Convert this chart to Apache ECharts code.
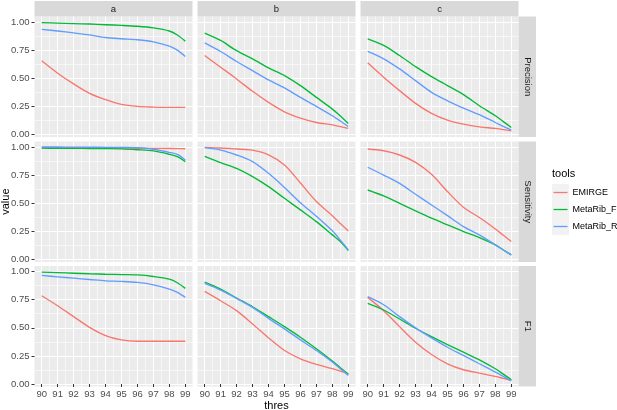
<!DOCTYPE html>
<html>
<head>
<meta charset="utf-8">
<script src="https://cdn.jsdelivr.net/npm/echarts@6/dist/echarts.min.js"></script>
<style>html,body{margin:0;padding:0;background:#fff}#c{width:617px;height:410px}</style>
</head>
<body>
<div id="c"></div>
<script>
// ---- data ----
const thres = [90, 91, 92, 93, 94, 95, 96, 97, 98, 98.5, 99];
const columns = ['a', 'b', 'c'];
const metrics = ['Precision', 'Sensitivity', 'F1'];
const tools = ['EMIRGE', 'MetaRib_F', 'MetaRib_R'];
const xTicks = [90, 91, 92, 93, 94, 95, 96, 97, 98, 99];
const xMinor = [90.5, 91.5, 92.5, 93.5, 94.5, 95.5, 96.5, 97.5, 98.5];
const yTicks = [0, 0.25, 0.5, 0.75, 1];
const yTickLabels = ['0.00', '0.25', '0.50', '0.75', '1.00'];
const yMinor = [0.125, 0.375, 0.625, 0.875];

// Precision
const precision_a_EMIRGE    = [0.655, 0.545, 0.450, 0.366, 0.310, 0.268, 0.250, 0.244, 0.241, 0.241, 0.241];
const precision_a_MetaRib_F = [0.994, 0.990, 0.986, 0.982, 0.976, 0.970, 0.962, 0.948, 0.920, 0.885, 0.830];
const precision_a_MetaRib_R = [0.935, 0.920, 0.903, 0.885, 0.862, 0.851, 0.842, 0.824, 0.786, 0.750, 0.693];
const precision_b_EMIRGE    = [0.702, 0.598, 0.494, 0.384, 0.286, 0.202, 0.146, 0.107, 0.086, 0.070, 0.054];
const precision_b_MetaRib_F = [0.902, 0.836, 0.745, 0.673, 0.592, 0.524, 0.435, 0.330, 0.226, 0.165, 0.098];
const precision_b_MetaRib_R = [0.815, 0.738, 0.649, 0.568, 0.485, 0.414, 0.330, 0.250, 0.167, 0.120, 0.071];
const precision_c_EMIRGE    = [0.637, 0.509, 0.390, 0.277, 0.188, 0.128, 0.092, 0.068, 0.054, 0.043, 0.033];
const precision_c_MetaRib_F = [0.851, 0.792, 0.702, 0.604, 0.515, 0.435, 0.354, 0.256, 0.167, 0.115, 0.063];
const precision_c_MetaRib_R = [0.738, 0.673, 0.583, 0.479, 0.375, 0.300, 0.235, 0.176, 0.107, 0.072, 0.039];
// Sensitivity
const sensitivity_a_EMIRGE    = [0.995, 0.994, 0.993, 0.992, 0.991, 0.990, 0.989, 0.988, 0.987, 0.986, 0.985];
const sensitivity_a_MetaRib_F = [0.990, 0.989, 0.988, 0.987, 0.986, 0.984, 0.976, 0.965, 0.935, 0.914, 0.870];
const sensitivity_a_MetaRib_R = [1.000, 1.000, 0.999, 0.998, 0.997, 0.996, 0.994, 0.980, 0.953, 0.935, 0.885];
const sensitivity_b_EMIRGE    = [0.997, 0.991, 0.982, 0.972, 0.930, 0.840, 0.680, 0.515, 0.390, 0.320, 0.254];
const sensitivity_b_MetaRib_F = [0.917, 0.861, 0.810, 0.737, 0.648, 0.544, 0.441, 0.337, 0.219, 0.160, 0.080];
const sensitivity_b_MetaRib_R = [0.994, 0.973, 0.929, 0.870, 0.766, 0.640, 0.505, 0.385, 0.255, 0.172, 0.086];
const sensitivity_c_EMIRGE    = [0.982, 0.967, 0.929, 0.864, 0.757, 0.604, 0.464, 0.373, 0.272, 0.215, 0.160];
const sensitivity_c_MetaRib_F = [0.618, 0.565, 0.500, 0.432, 0.367, 0.308, 0.249, 0.195, 0.130, 0.085, 0.041];
const sensitivity_c_MetaRib_R = [0.820, 0.751, 0.677, 0.580, 0.485, 0.390, 0.293, 0.219, 0.130, 0.085, 0.041];
// F1
const f1_a_EMIRGE    = [0.785, 0.696, 0.599, 0.504, 0.431, 0.392, 0.380, 0.380, 0.380, 0.380, 0.380];
const f1_a_MetaRib_F = [0.994, 0.990, 0.985, 0.980, 0.976, 0.973, 0.970, 0.956, 0.932, 0.900, 0.850];
const f1_a_MetaRib_R = [0.965, 0.953, 0.941, 0.929, 0.917, 0.912, 0.903, 0.882, 0.844, 0.815, 0.770];
const f1_b_EMIRGE    = [0.823, 0.740, 0.652, 0.534, 0.410, 0.298, 0.224, 0.174, 0.136, 0.115, 0.091];
const f1_b_MetaRib_F = [0.906, 0.844, 0.764, 0.687, 0.599, 0.510, 0.416, 0.313, 0.204, 0.145, 0.086];
const f1_b_MetaRib_R = [0.894, 0.835, 0.761, 0.681, 0.584, 0.490, 0.392, 0.298, 0.195, 0.135, 0.077];
const f1_c_EMIRGE    = [0.770, 0.652, 0.510, 0.372, 0.263, 0.180, 0.127, 0.097, 0.068, 0.050, 0.032];
const f1_c_MetaRib_F = [0.717, 0.658, 0.578, 0.496, 0.422, 0.351, 0.283, 0.215, 0.136, 0.088, 0.038];
const f1_c_MetaRib_R = [0.776, 0.705, 0.599, 0.499, 0.410, 0.327, 0.254, 0.180, 0.106, 0.068, 0.027];

const table = {
  Precision: {
    a: [precision_a_EMIRGE, precision_a_MetaRib_F, precision_a_MetaRib_R],
    b: [precision_b_EMIRGE, precision_b_MetaRib_F, precision_b_MetaRib_R],
    c: [precision_c_EMIRGE, precision_c_MetaRib_F, precision_c_MetaRib_R]
  },
  Sensitivity: {
    a: [sensitivity_a_EMIRGE, sensitivity_a_MetaRib_F, sensitivity_a_MetaRib_R],
    b: [sensitivity_b_EMIRGE, sensitivity_b_MetaRib_F, sensitivity_b_MetaRib_R],
    c: [sensitivity_c_EMIRGE, sensitivity_c_MetaRib_F, sensitivity_c_MetaRib_R]
  },
  F1: {
    a: [f1_a_EMIRGE, f1_a_MetaRib_F, f1_a_MetaRib_R],
    b: [f1_b_EMIRGE, f1_b_MetaRib_F, f1_b_MetaRib_R],
    c: [f1_c_EMIRGE, f1_c_MetaRib_F, f1_c_MetaRib_R]
  }
};

// ---- layout / style ----
const FONT = '"Liberation Sans", Arial, Helvetica, sans-serif';
const colors = ['#F8766D', '#00BA38', '#619CFF'];
const GL = [34.5, 197.5, 360.5], GW = 158;
const GT = [16.5, 141.5, 266], GH = 120.5;
const XMIN = 89.55, XMAX = 99.45, YMIN = -0.022, YMAX = 1.049;

const grids = [], xAxes = [], yAxes = [], series = [], graphics = [];
let gi = 0;
for (let r = 0; r < 3; r++) {
  for (let c = 0; c < 3; c++) {
    grids.push({left: GL[c], top: GT[r], width: GW, height: GH, show: true,
      backgroundColor: '#EBEBEB', borderWidth: 0, containLabel: false});
    const bottomRow = r === 2, leftCol = c === 0;
    // major x
    xAxes.push({type: 'value', gridIndex: gi, min: XMIN, max: XMAX, z: 2,
      axisLine: {show: false},
      axisTick: {show: bottomRow, customValues: xTicks, length: 3, lineStyle: {color: '#333333', width: 1}},
      axisLabel: {show: bottomRow, customValues: xTicks, color: '#4D4D4D', fontSize: 9.5, fontFamily: FONT, margin: 3},
      splitLine: {show: true, lineStyle: {color: '#FFFFFF', width: 1.1}},
      minorSplitLine: {show: false}
    });
    // minor x
    xAxes.push({type: 'value', gridIndex: gi, min: XMIN, max: XMAX, z: 1,
      axisLine: {show: false},
      axisTick: {show: false, customValues: xMinor},
      axisLabel: {show: false, customValues: xMinor},
      splitLine: {show: true, lineStyle: {color: '#FFFFFF', width: 0.55}}
    });
    // major y
    yAxes.push({type: 'value', gridIndex: gi, min: YMIN, max: YMAX, z: 2,
      axisLine: {show: false},
      axisTick: {show: leftCol, customValues: yTicks, length: 3, lineStyle: {color: '#333333', width: 1}},
      axisLabel: {show: leftCol, customValues: yTicks, color: '#4D4D4D', fontSize: 9.5, fontFamily: FONT, margin: 5,
        formatter: v => yTickLabels[yTicks.indexOf(Math.round(v * 100) / 100)] ?? v.toFixed(2)},
      splitLine: {show: true, lineStyle: {color: '#FFFFFF', width: 1.1}}
    });
    // minor y
    yAxes.push({type: 'value', gridIndex: gi, min: YMIN, max: YMAX, z: 1,
      axisLine: {show: false},
      axisTick: {show: false, customValues: yMinor},
      axisLabel: {show: false, customValues: yMinor},
      splitLine: {show: true, lineStyle: {color: '#FFFFFF', width: 0.55}}
    });
    const vals = table[metrics[r]][columns[c]];
    tools.forEach((t, k) => {
      series.push({name: t, type: 'line', xAxisIndex: 2 * gi, yAxisIndex: 2 * gi, z: 3 + k,
        data: thres.map((x, i) => [x, vals[k][i]]),
        showSymbol: false, symbol: 'none', smooth: 0.3,
        lineStyle: {color: colors[k], width: 1.35}, itemStyle: {color: colors[k]},
        emphasis: {disabled: true}, silent: true, clip: true});
    });
    gi++;
  }
}

// strips on top
columns.forEach((lab, c) => {
  graphics.push({type: 'rect', shape: {x: GL[c], y: 1, width: GW, height: 15.5}, style: {fill: '#D9D9D9'}, silent: true});
  graphics.push({type: 'text', x: GL[c] + GW / 2, y: 8.9, style: {text: lab, fill: '#1A1A1A', fontSize: 9.5, fontFamily: FONT,
    align: 'center', verticalAlign: 'middle'}, silent: true});
});
// strips on right
metrics.forEach((lab, r) => {
  graphics.push({type: 'rect', shape: {x: 518.5, y: GT[r], width: 17.5, height: GH}, style: {fill: '#D9D9D9'}, silent: true});
  graphics.push({type: 'text', x: 527.2, y: GT[r] + GH / 2, rotation: -Math.PI / 2,
    style: {text: lab, fill: '#1A1A1A', fontSize: 9.5, fontFamily: FONT, align: 'center', verticalAlign: 'middle'}, silent: true});
});
// axis titles
graphics.push({type: 'text', x: 5.5, y: 201.6, rotation: Math.PI / 2,
  style: {text: 'value', fill: '#000000', fontSize: 11, fontFamily: FONT, align: 'center', verticalAlign: 'middle'}, silent: true});
graphics.push({type: 'text', x: 276.5, y: 405.5,
  style: {text: 'thres', fill: '#000000', fontSize: 11, fontFamily: FONT, align: 'center', verticalAlign: 'middle'}, silent: true});
// legend title and key backgrounds
graphics.push({type: 'text', x: 552, y: 174, style: {text: 'tools', fill: '#000000', fontSize: 11, fontFamily: FONT,
  align: 'left', verticalAlign: 'middle'}, silent: true});
tools.forEach((t, k) => {
  graphics.push({type: 'rect', z: -1, shape: {x: 552, y: 184 + 17 * k, width: 17, height: 17}, style: {fill: '#F2F2F2'}, silent: true});
});

const chart = echarts.init(document.getElementById('c'), null, {renderer: 'canvas'});
chart.setOption({
  animation: false,
  backgroundColor: '#FFFFFF',
  grid: grids,
  xAxis: xAxes,
  yAxis: yAxes,
  series: series,
  legend: {
    data: tools, orient: 'vertical', left: 553.5, top: 184, itemGap: 0,
    icon: 'rect', itemWidth: 14, itemHeight: 1.3, selectedMode: false,
    textStyle: {fontSize: 9, fontFamily: FONT, color: '#000000', lineHeight: 17, padding: [0, 0, 0, 0]},
    padding: 0
  },
  graphic: graphics
});
</script>
</body>
</html>
